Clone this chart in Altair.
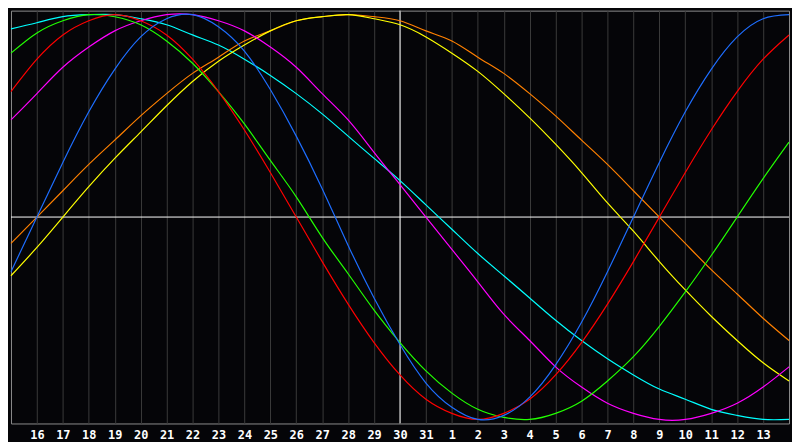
import json
import altair as alt
import pandas as pd

# x position: day offset, 0 = the 15th of the first month, 30 = the 14th of the next
days = list(range(31))
tick_days = list(range(1, 30))
tick_labels = ["16", "17", "18", "19", "20", "21", "22", "23", "24", "25", "26",
               "27", "28", "29", "30", "31", "1", "2", "3", "4", "5", "6", "7",
               "8", "9", "10", "11", "12", "13"]
today = 15

# values, one per day (-1 .. 1)
cycle_23 = [-0.27, 0.0, 0.27, 0.52, 0.73, 0.89, 0.98, 1.0, 0.94, 0.82, 0.63, 0.40,
            0.14, -0.14, -0.40, -0.63, -0.82, -0.94, -1.0, -0.98, -0.89, -0.73,
            -0.52, -0.27, 0.0, 0.27, 0.52, 0.73, 0.89, 0.98, 1.0]
cycle_28 = [0.62, 0.78, 0.90, 0.97, 1.0, 0.97, 0.90, 0.78, 0.62, 0.43, 0.22, 0.0,
            -0.22, -0.43, -0.62, -0.78, -0.90, -0.97, -1.0, -0.97, -0.90, -0.78,
            -0.62, -0.43, -0.22, 0.0, 0.22, 0.43, 0.62, 0.78, 0.90]
cycle_33 = [0.81, 0.91, 0.97, 1.0, 0.99, 0.95, 0.87, 0.76, 0.62, 0.46, 0.28, 0.10,
            -0.10, -0.28, -0.46, -0.62, -0.76, -0.87, -0.95, -0.99, -1.0, -0.97,
            -0.91, -0.81, -0.69, -0.54, -0.37, -0.19, 0.0, 0.19, 0.37]
cycle_38 = [0.48, 0.61, 0.74, 0.84, 0.92, 0.97, 1.0, 1.0, 0.97, 0.92, 0.84, 0.74,
            0.61, 0.48, 0.32, 0.16, 0.0, -0.16, -0.32, -0.48, -0.61, -0.74, -0.84,
            -0.92, -0.97, -1.0, -1.0, -0.97, -0.92, -0.84, -0.74]
cycle_43 = [-0.29, -0.15, 0.0, 0.15, 0.29, 0.42, 0.55, 0.67, 0.77, 0.85, 0.92, 0.97,
            0.99, 1.0, 0.98, 0.95, 0.89, 0.81, 0.72, 0.61, 0.49, 0.36, 0.22, 0.07,
            -0.07, -0.22, -0.36, -0.49, -0.61, -0.72, -0.81]
cycle_48 = [-0.13, 0.0, 0.13, 0.26, 0.38, 0.50, 0.61, 0.71, 0.79, 0.87, 0.92, 0.97,
            0.99, 1.0, 0.99, 0.97, 0.92, 0.87, 0.79, 0.71, 0.61, 0.50, 0.38, 0.26,
            0.13, 0.0, -0.13, -0.26, -0.38, -0.50, -0.61]
cycle_53 = [0.93, 0.96, 0.99, 1.0, 1.0, 0.98, 0.95, 0.90, 0.85, 0.78, 0.70, 0.61,
            0.51, 0.40, 0.29, 0.18, 0.06, -0.06, -0.18, -0.29, -0.40, -0.51, -0.61,
            -0.70, -0.78, -0.85, -0.90, -0.95, -0.98, -1.0, -1.0]

names = ["53", "48", "43", "38", "33", "28", "23"]
colors = ["#00ffff", "#ff8000", "#ffff00", "#ff00ff", "#22ff00", "#ff0000", "#1e6eff"]
values = [cycle_53, cycle_48, cycle_43, cycle_38, cycle_33, cycle_28, cycle_23]

rows = []
for i, (n, vals) in enumerate(zip(names, values)):
    for d, v in zip(days, vals):
        rows.append({"day": d, "value": v, "cycle": n, "order": i})
df = pd.DataFrame(rows)

label_expr = json.dumps(tick_labels) + "[datum.value - 1]"

x_scale = alt.Scale(domain=[0, 30], nice=False, zero=False)
y_scale = alt.Scale(domain=[-1.02, 1.02], nice=False, zero=False)

x_axis = alt.Axis(values=tick_days, labelExpr=label_expr, grid=True,
                  gridColor="#3a3a3a", gridWidth=1, domain=False, ticks=False,
                  labelColor="#ffffff", labelFont="DejaVu Sans Mono",
                  labelFontWeight="bold", labelFontSize=12, labelPadding=6,
                  labelOverlap=False, title=None)

rule_h = alt.Chart(pd.DataFrame({"value": [0]})).mark_rule(
    color="#ffffff", strokeWidth=1
).encode(y=alt.Y("value:Q", scale=y_scale, axis=None))

rule_v = alt.Chart(pd.DataFrame({"day": [today]})).mark_rule(
    color="#ffffff", strokeWidth=1
).encode(x=alt.X("day:Q", scale=x_scale, axis=x_axis))

lines = alt.Chart(df).mark_line(strokeWidth=1.2, interpolate="natural").encode(
    x=alt.X("day:Q", scale=x_scale, axis=x_axis),
    y=alt.Y("value:Q", scale=y_scale, axis=None),
    color=alt.Color("cycle:N", scale=alt.Scale(domain=names, range=colors), legend=None),
    detail="order:O",
)

chart = alt.layer(rule_v, rule_h, lines).properties(
    width=784, height=416, padding=0, background="#050508"
).configure_view(stroke="#8c8c8c", strokeWidth=1, fill="#050508")

chart.save("out.html", embed_options={"renderer": "svg", "actions": False})
